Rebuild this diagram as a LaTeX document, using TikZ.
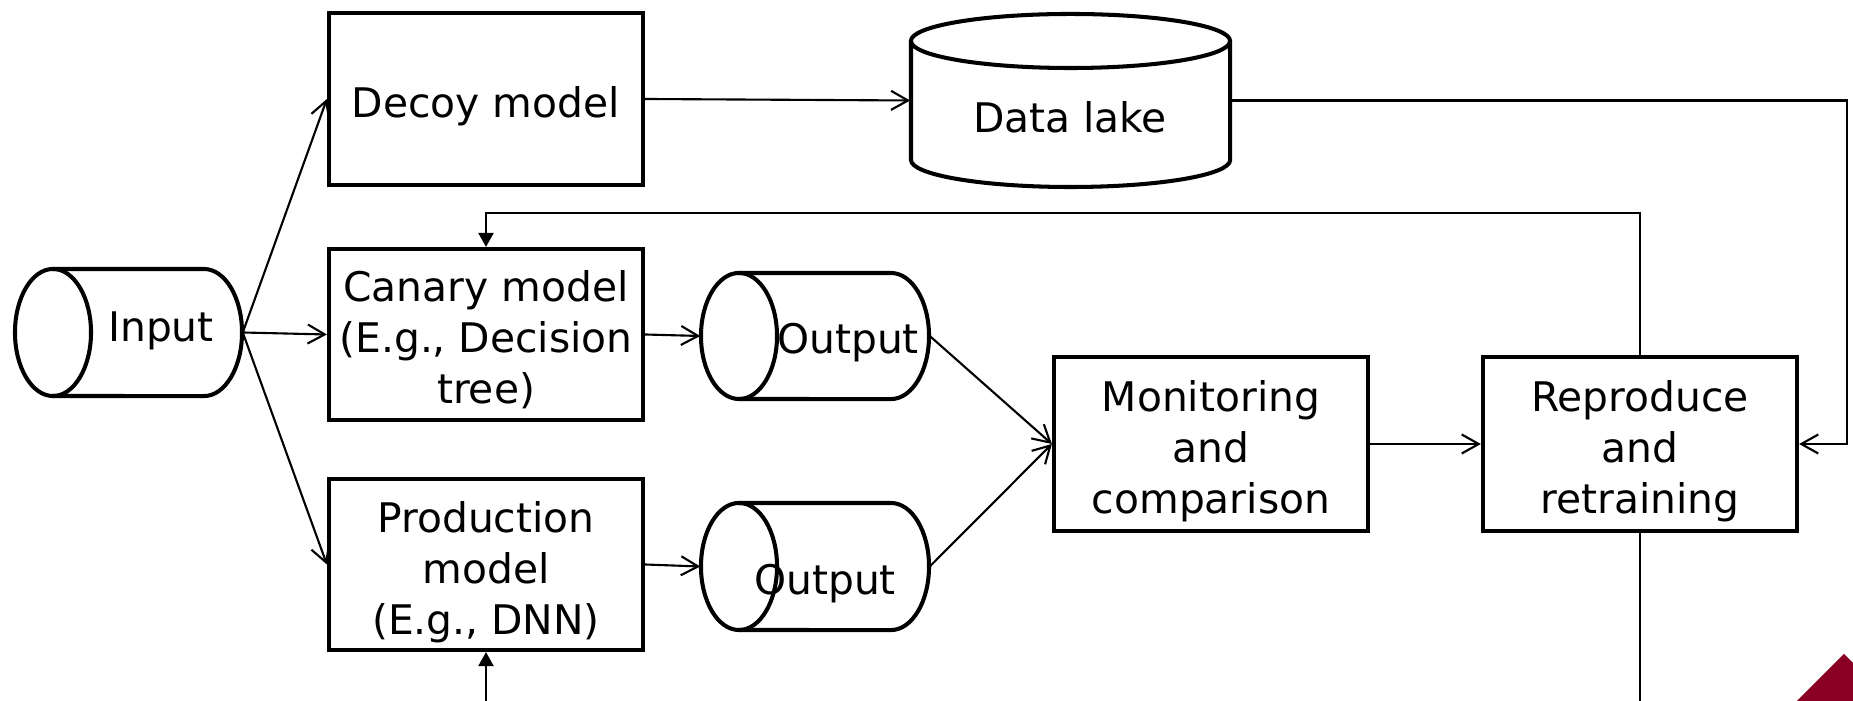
\documentclass[tikz,border=0pt]{standalone}
\usepackage{fontspec}
\setmainfont{DejaVu Sans}
\usetikzlibrary{arrows.meta}
\definecolor{maroon}{RGB}{138,0,36}

\begin{document}
\begin{tikzpicture}[x=0.01cm,y=-0.01cm,
  txt/.style={font=\fontsize{11.6}{14.5}\selectfont,inner sep=0pt,align=center},
  box/.style={draw,line width=1.15pt,minimum width=3.14cm,minimum height=1.72cm,inner sep=0pt},
  hull/.style={line width=1.15pt},
  hole/.style={minimum width=2.27cm,minimum height=1.27cm,inner sep=0pt},
  arr/.style={line width=0.6pt,-{Straight Barb[length=1.7mm,width=1.9mm]}},
  back/.style={line width=0.6pt,-{Triangle[length=1.4mm,width=1.5mm]}}]
\useasboundingbox (0,0) rectangle (1853,701);

% models
\node[box] (decoy) at (486,99) {};
\node[box,minimum height=1.71cm] (canary) at (486,334.5) {};
\node[box,minimum height=1.71cm] (prod) at (486,564.5) {};
\node[box,minimum height=1.74cm] (mon) at (1211,444) {};
\node[box,minimum height=1.74cm] (repro) at (1640,444) {};
\node[txt] (decoytxt) at ([yshift=-0.07cm]decoy.center) {Decoy model};
\node[txt] (canarytxt) at ([yshift=-0.05cm]canary.center) {Canary model\\(E.g., Decision\\tree)};
\node[txt] (prodtxt) at ([yshift=-0.075cm]prod.center) {Production\\model\\(E.g., DNN)};
\node[txt] (montxt) at ([yshift=-0.075cm]mon.center) {Monitoring\\and\\comparison};
\node[txt] (reprotxt) at ([yshift=-0.07cm]repro.center) {Reproduce\\and\\retraining};

% input cylinder, lying down
\node[hole] (inp) at (128.5,332.5) {};
\draw[hull] (53,269) -- (204,269) arc[start angle=90,end angle=-90,x radius=0.38cm,y radius=0.635cm] -- (53,396);
\draw[hull] (53,332.5) ellipse[x radius=0.38cm,y radius=0.635cm];
\node[txt] (inptxt) at (161,330.5) {Input};

% output cylinders
\node[hole,minimum width=2.28cm,minimum height=1.26cm] (out1) at (815,336) {};
\draw[hull] (739,273) -- (891,273) arc[start angle=90,end angle=-90,x radius=0.38cm,y radius=0.63cm] -- (739,399);
\draw[hull] (739,336) ellipse[x radius=0.38cm,y radius=0.63cm];
\node[txt] (out1txt) at (848,342.5) {Output};

\node[hole,minimum width=2.28cm,minimum height=1.27cm] (out2) at (815,566.5) {};
\draw[hull] (739,503) -- (891,503) arc[start angle=90,end angle=-90,x radius=0.38cm,y radius=0.635cm] -- (739,630);
\draw[hull] (739,566.5) ellipse[x radius=0.38cm,y radius=0.635cm];
\node[txt] (out2txt) at (825,583.5) {Output};

% data lake, standing up
\node[hole,minimum width=3.19cm,minimum height=1.73cm] (lake) at (1070.5,100.5) {};
\draw[hull] (911,41) -- (911,160) arc[start angle=180,end angle=360,x radius=1.595cm,y radius=0.27cm] -- (1230,41);
\draw[hull] (1070.5,41) ellipse[x radius=1.595cm,y radius=0.27cm];
\node[txt] (laketxt) at (1070,117) {Data lake};

% flow
\draw[arr] (inp.east) -- (decoy.west);
\draw[arr] (inp.east) -- (canary.west);
\draw[arr] (inp.east) -- (prod.west);
\draw[arr] (decoy.east) -- (lake.west);
\draw[arr] (canary.east) -- (out1.west);
\draw[arr] (prod.east) -- (out2.west);
\draw[arr] (out1.east) -- (mon.west);
\draw[arr] (out2.east) -- (mon.west);
\draw[arr] (mon.east) -- (repro.west);
\draw[arr] (lake.east) -- ++(616,0) |- (repro.east);

% feedback
\coordinate (reprobot) at (1640,701);
\coordinate (prodin) at (486,701);
\draw[back] (repro.north) -- ++(0,-142) -| (canary.north);
\draw[line width=0.6pt] (repro.south) -- (reprobot);
\draw[back] (prodin) -- (prod.south);

\fill[maroon] (1797,701) -- (1844,654) -- (1853,663) -- (1853,701) -- cycle;
\end{tikzpicture}
\end{document}
